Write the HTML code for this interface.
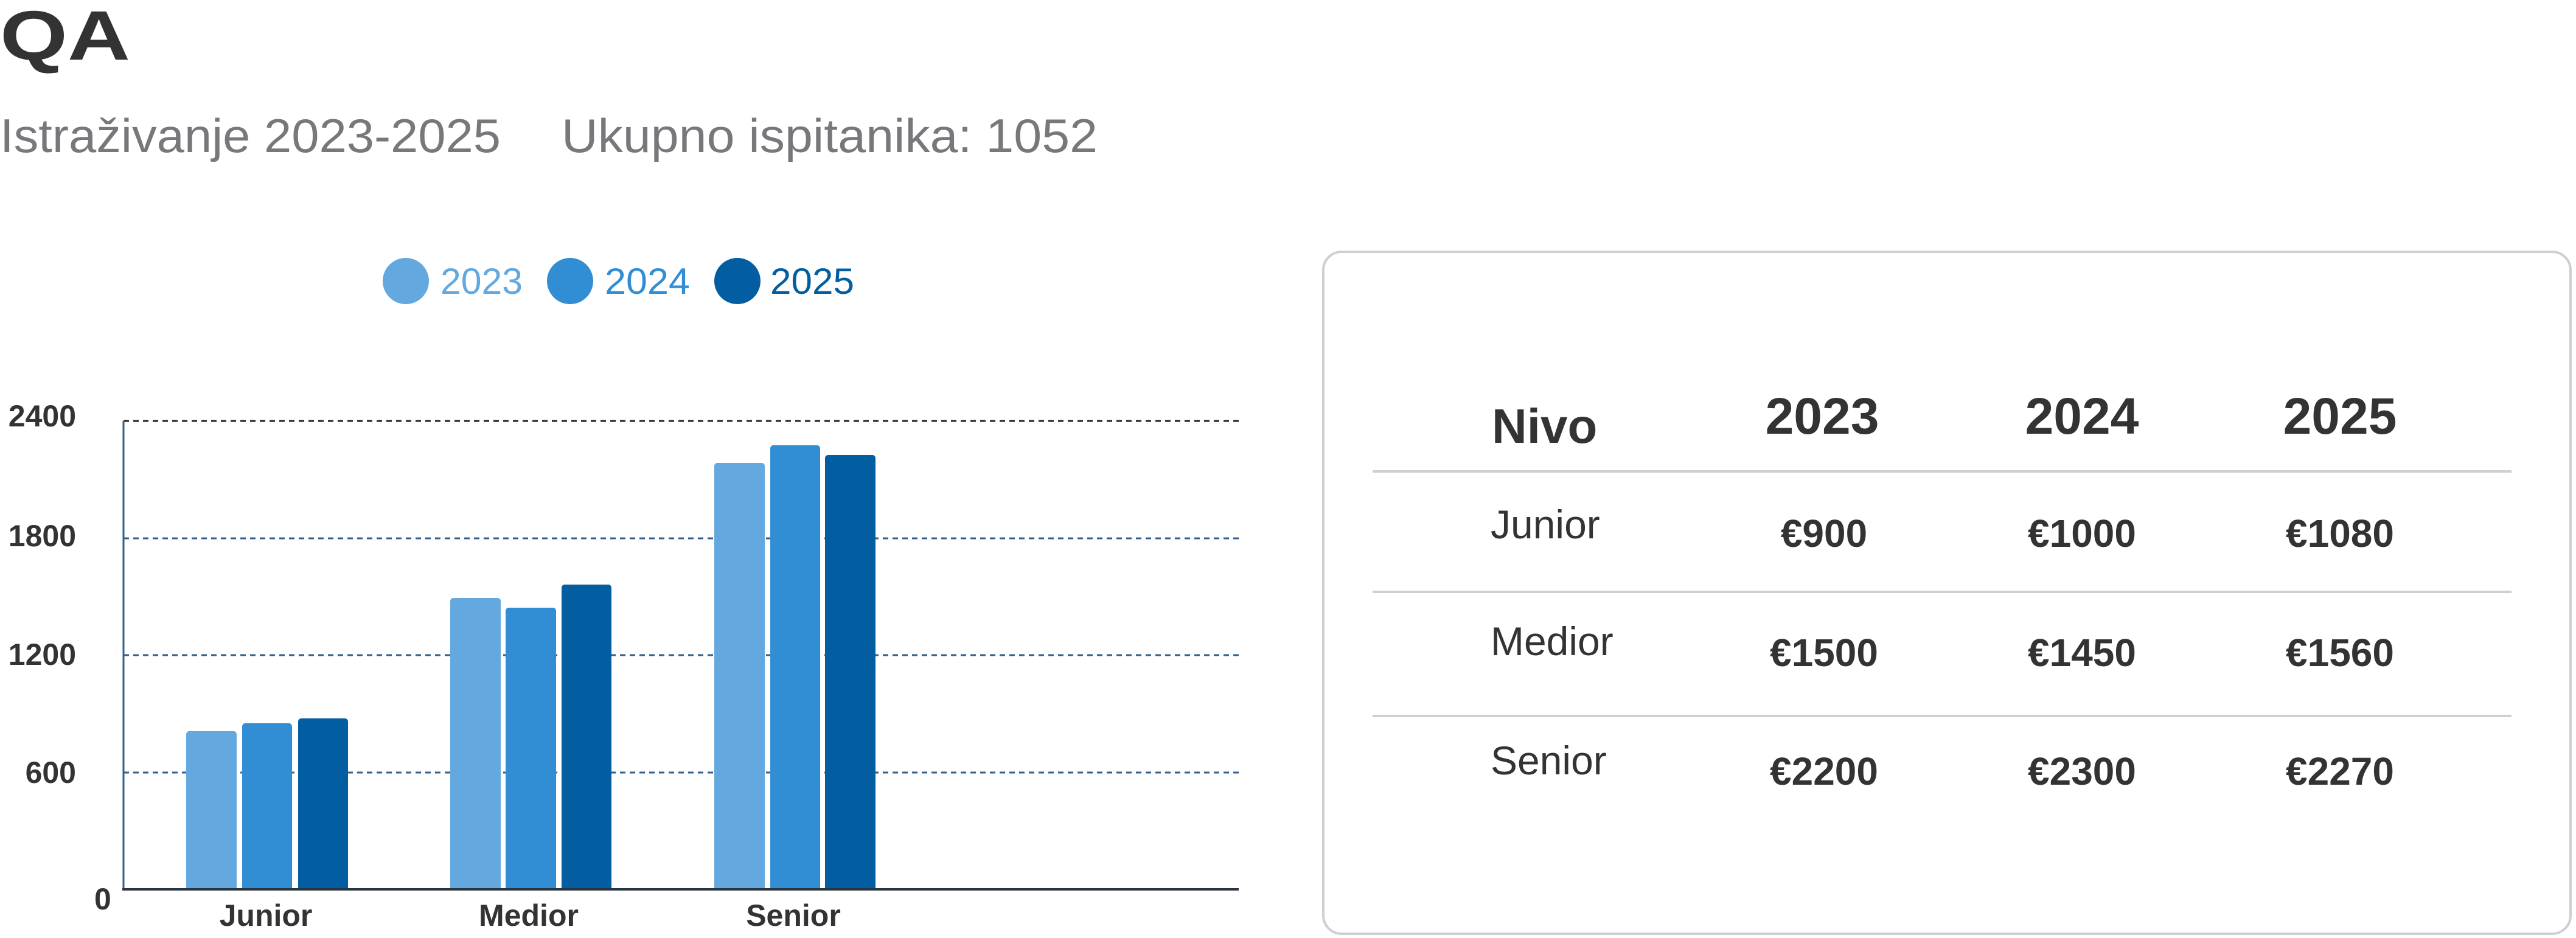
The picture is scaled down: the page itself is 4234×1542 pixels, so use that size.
<!DOCTYPE html>
<html><head><meta charset="utf-8"><style>
html,body{margin:0;padding:0;background:#fff;}
svg{display:block;}
text{font-family:"Liberation Sans",sans-serif;}
</style></head><body>
<svg width="4234" height="1542" viewBox="0 0 4234 1542" xmlns="http://www.w3.org/2000/svg">
<rect width="4234" height="1542" fill="#fff"/>
<!-- Title -->
<text x="0" y="98" font-size="115" font-weight="700" fill="#333" textLength="214" lengthAdjust="spacingAndGlyphs">QA</text>
<text x="0" y="250" font-size="78" fill="#77777c" textLength="823" lengthAdjust="spacingAndGlyphs">Istraživanje 2023-2025</text>
<text x="923" y="250" font-size="78" fill="#77777c" textLength="881" lengthAdjust="spacingAndGlyphs">Ukupno ispitanika: 1052</text>
<!-- Legend -->
<circle cx="667" cy="462" r="38" fill="#63a8de"/>
<text x="724" y="483" font-size="60" fill="#63a8de" textLength="135" lengthAdjust="spacingAndGlyphs">2023</text>
<circle cx="937" cy="462" r="38" fill="#318ed5"/>
<text x="994" y="483" font-size="60" fill="#318ed5" textLength="140" lengthAdjust="spacingAndGlyphs">2024</text>
<circle cx="1212" cy="462" r="38" fill="#025ea1"/>
<text x="1266" y="483" font-size="60" fill="#025ea1" textLength="138" lengthAdjust="spacingAndGlyphs">2025</text>
<!-- Grid -->
<line x1="203" y1="692" x2="2036" y2="692" stroke="#222" stroke-width="3" stroke-dasharray="9,7"/>
<line x1="203" y1="885" x2="2036" y2="885" stroke="#2f5f8a" stroke-width="3" stroke-dasharray="9,7"/>
<line x1="203" y1="1077" x2="2036" y2="1077" stroke="#2f5f8a" stroke-width="3" stroke-dasharray="9,7"/>
<line x1="203" y1="1270" x2="2036" y2="1270" stroke="#2f5f8a" stroke-width="3" stroke-dasharray="9,7"/>
<line x1="203" y1="692" x2="203" y2="1462" stroke="#2f5f8a" stroke-width="3"/>
<!-- Bars -->
<g>
<path d="M306 1462V1207a5 5 0 0 1 5-5h73a5 5 0 0 1 5 5V1462Z" fill="#63a8de"/>
<path d="M398 1462V1194a5 5 0 0 1 5-5h72a5 5 0 0 1 5 5V1462Z" fill="#318ed5"/>
<path d="M490 1462V1186a5 5 0 0 1 5-5h72a5 5 0 0 1 5 5V1462Z" fill="#025ea1"/>
<path d="M740 1462V988a5 5 0 0 1 5-5h73a5 5 0 0 1 5 5V1462Z" fill="#63a8de"/>
<path d="M831 1462V1004a5 5 0 0 1 5-5h73a5 5 0 0 1 5 5V1462Z" fill="#318ed5"/>
<path d="M923 1462V966a5 5 0 0 1 5-5h72a5 5 0 0 1 5 5V1462Z" fill="#025ea1"/>
<path d="M1174 1462V766a5 5 0 0 1 5-5h73a5 5 0 0 1 5 5V1462Z" fill="#63a8de"/>
<path d="M1266 1462V737a5 5 0 0 1 5-5h72a5 5 0 0 1 5 5V1462Z" fill="#318ed5"/>
<path d="M1356 1462V753a5 5 0 0 1 5-5h73a5 5 0 0 1 5 5V1462Z" fill="#025ea1"/>
</g>
<line x1="201" y1="1462" x2="2036" y2="1462" stroke="#2a3440" stroke-width="4"/>
<!-- Y labels -->
<g font-size="50" font-weight="700" fill="#333" text-anchor="end">
<text x="125" y="701">2400</text>
<text x="125" y="898">1800</text>
<text x="125" y="1093">1200</text>
<text x="125" y="1287">600</text>
</g>
<text x="155" y="1495" font-size="50" font-weight="700" fill="#333">0</text>
<!-- X labels -->
<g font-size="50" font-weight="700" fill="#333" text-anchor="middle">
<text x="437" y="1522">Junior</text>
<text x="869" y="1522">Medior</text>
<text x="1304" y="1522">Senior</text>
</g>
<!-- Table card -->
<rect x="2175" y="414" width="2050" height="1121" rx="30" fill="#fff" stroke="#cfcfcf" stroke-width="4"/>
<text x="2452" y="728" font-size="80" font-weight="700" fill="#333">Nivo</text>
<g font-size="84" font-weight="700" fill="#333" text-anchor="middle">
<text x="2995" y="713">2023</text>
<text x="3422" y="713">2024</text>
<text x="3846" y="713">2025</text>
</g>
<line x1="2256" y1="775" x2="4128" y2="775" stroke="#cfcfcf" stroke-width="4"/>
<line x1="2256" y1="973" x2="4128" y2="973" stroke="#cfcfcf" stroke-width="4"/>
<line x1="2256" y1="1177" x2="4128" y2="1177" stroke="#cfcfcf" stroke-width="4"/>
<g font-size="66" fill="#333" font-weight="400">
<text x="2450" y="885">Junior</text>
<text x="2450" y="1077">Medior</text>
<text x="2450" y="1273">Senior</text>
</g>
<g font-size="64" font-weight="700" fill="#333" text-anchor="middle">
<text x="2998" y="899">€900</text>
<text x="3422" y="899">€1000</text>
<text x="3846" y="899">€1080</text>
<text x="2998" y="1095">€1500</text>
<text x="3422" y="1095">€1450</text>
<text x="3846" y="1095">€1560</text>
<text x="2998" y="1290">€2200</text>
<text x="3422" y="1290">€2300</text>
<text x="3846" y="1290">€2270</text>
</g>
</svg>
</body></html>
